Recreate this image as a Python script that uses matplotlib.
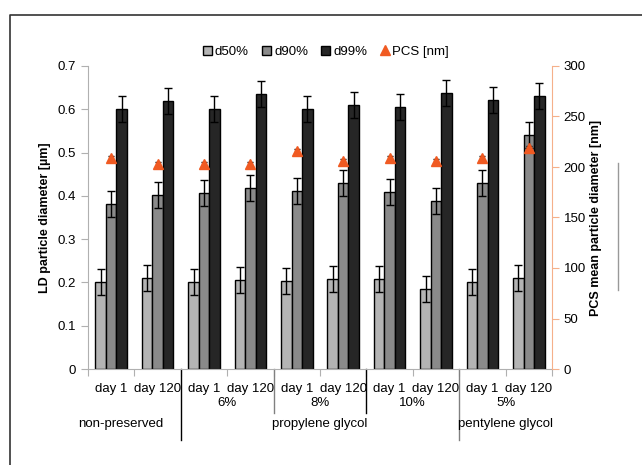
import matplotlib.pyplot as plt
import numpy as np
from matplotlib.lines import Line2D
from matplotlib.patches import Patch

plt.rcParams['font.family'] = ['Liberation Sans', 'DejaVu Sans']

days = ["day 1", "day 120"] * 5
conc = ["", "6%", "8%", "10%", "5%"]
groups = ["non-preserved", "propylene glycol", "pentylene glycol"]

d50 = [0.200, 0.210, 0.200, 0.205, 0.204, 0.208, 0.208, 0.184, 0.200, 0.210]
d50_err = [0.03, 0.03, 0.03, 0.03, 0.03, 0.03, 0.03, 0.03, 0.03, 0.03]
d90 = [0.381, 0.401, 0.407, 0.418, 0.411, 0.430, 0.410, 0.388, 0.430, 0.540]
d90_err = [0.03, 0.03, 0.03, 0.03, 0.03, 0.03, 0.03, 0.03, 0.03, 0.03]
d99 = [0.600, 0.620, 0.600, 0.635, 0.600, 0.610, 0.606, 0.637, 0.621, 0.631]
d99_err = [0.03, 0.03, 0.03, 0.03, 0.03, 0.03, 0.03, 0.03, 0.03, 0.03]
pcs = [209, 203, 203, 203, 216, 206, 209, 206, 209, 219]
pcs_err = [2, 2, 2, 2, 2, 2, 2, 2, 2, 2]

c50, c90, c99, cpcs = '#b4b4b4', '#8a8a8a', '#262626', '#f05a22'

fig = plt.figure(figsize=(6.42, 4.65), dpi=100)
ax = fig.add_axes([88/642, 1-369/465, 464/642, 303/465])
ax2 = ax.twinx()

x = np.arange(10) + 0.5
w = 0.226
ekw = dict(ecolor='black', elinewidth=1, capsize=3, capthick=1)
ax.bar(x - w, d50, w, yerr=d50_err, color=c50, edgecolor='black', linewidth=1, error_kw=ekw, zorder=2)
ax.bar(x, d90, w, yerr=d90_err, color=c90, edgecolor='black', linewidth=1, error_kw=ekw, zorder=2)
ax.bar(x + w, d99, w, yerr=d99_err, color=c99, edgecolor='black', linewidth=1, error_kw=ekw, zorder=2)
ax2.errorbar(x, pcs, yerr=pcs_err, fmt='^', color=cpcs, markersize=7, ecolor='black',
             elinewidth=1, capsize=2.5, zorder=3)

ax.set_xlim(0, 10)
ax.set_ylim(0, 0.7)
ax2.set_ylim(0, 300)
ax.set_yticks(np.arange(0, 0.71, 0.1))
ax.set_yticklabels(["0", "0.1", "0.2", "0.3", "0.4", "0.5", "0.6", "0.7"])
ax2.set_yticks(range(0, 301, 50))
ax.set_xticks(range(11))
ax.set_xticklabels([])

for a in (ax, ax2):
    for s in a.spines.values():
        s.set_visible(False)
ax.spines['left'].set_visible(True)
ax.spines['left'].set_color('#b0b0b0')
ax.spines['bottom'].set_visible(True)
ax.spines['bottom'].set_color('#b0b0b0')
ax2.spines['right'].set_visible(True)
ax2.spines['right'].set_color('#f5b08a')
ax.tick_params(axis='y', colors='#b0b0b0', labelcolor='black', labelsize=9.5, length=5, direction='out')
ax.tick_params(axis='x', colors='#b0b0b0', length=5, direction='out')
ax2.tick_params(axis='y', colors='#f5b08a', labelcolor='black', labelsize=9.5, length=5, direction='out')

ax.set_ylabel("LD particle diameter [µm]", fontsize=9, fontweight='bold', labelpad=5)
ax2.set_ylabel("PCS mean particle diameter [nm]", fontsize=9, fontweight='bold', labelpad=3)

tr = ax.get_xaxis_transform()
for i, d in enumerate(days):
    ax.text(x[i], -0.066, d, transform=tr, ha='center', va='center', fontsize=9.5)
for j, c in enumerate(conc):
    if c:
        ax.text(2 * j + 1, -0.112, c, transform=tr, ha='center', va='center', fontsize=9.5)
group_x = [0.7, 5.0, 9.0]
for gx, g in zip(group_x, groups):
    ax.text(gx, -0.182, g, transform=tr, ha='center', va='center', fontsize=9.5)

for sx, yb, col in [(2, -0.234, 'black'), (4, -0.144, '#808080'),
                    (6, -0.144, 'black'), (8, -0.234, '#808080')]:
    ax.add_line(Line2D([sx, sx], [0, yb], transform=tr, color=col, lw=1, clip_on=False))

handles = [Patch(facecolor=c50, edgecolor='black'), Patch(facecolor=c90, edgecolor='black'),
           Patch(facecolor=c99, edgecolor='black'),
           Line2D([], [], marker='^', color=cpcs, linestyle='none', markersize=7)]
fig.legend(handles, ["d50%", "d90%", "d99%", "PCS [nm]"], loc='center', ncol=4,
           bbox_to_anchor=(326/642, 1-52/465), frameon=False, fontsize=9.5,
           handlelength=0.7, handleheight=0.7, handletextpad=0.2, columnspacing=1.0)

# outer frame (top and left edges) and stray line
fig.add_artist(Line2D([10/642, 10/642, 1], [0, 1-15/465, 1-15/465], transform=fig.transFigure,
                      color='#333333', lw=1.2))
fig.add_artist(Line2D([618/642, 618/642], [1-163/465, 1-290/465], transform=fig.transFigure,
                      color='#999999', lw=1))

fig.savefig("out.png", dpi=100)
